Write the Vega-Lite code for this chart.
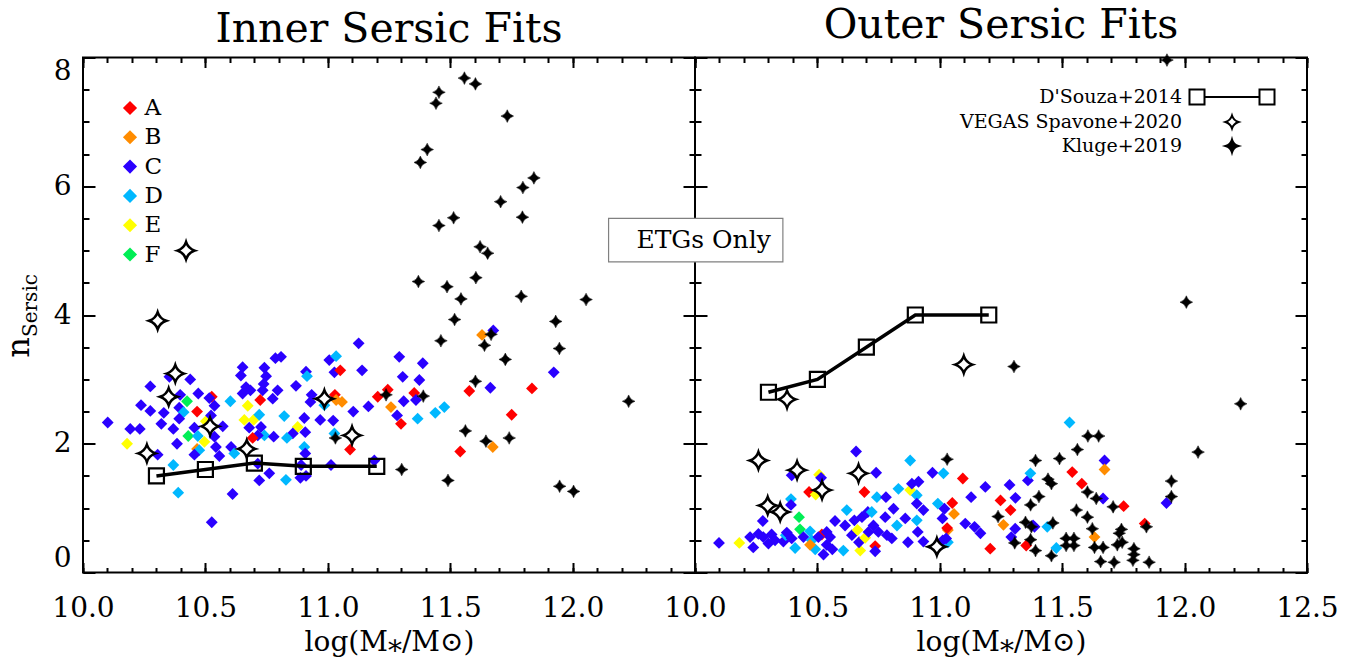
{
 "$schema": "https://vega.github.io/schema/vega-lite/v6.json",
 "padding": {"left": 1, "top": 3.5, "right": 5, "bottom": 2},
 "background": "white",
 "spacing": 0,
 "bounds": "flush",
 "config": {
  "view": {"stroke": "black", "strokeWidth": 2},
  "axis": {"domain": false, "grid": false, "tickColor": "black", "tickWidth": 2, "labelColor": "black", "labelFont": "DejaVu Serif", "labelFontSize": 28, "titleFont": "DejaVu Serif", "titleFontWeight": "normal", "titleColor": "black", "labelOverlap": false},
  "title": {"font": "DejaVu Serif", "fontSize": 41, "fontWeight": "normal", "color": "black", "anchor": "middle", "offset": 6}
 },
 "datasets": {
  "leftDiamonds": [
   {"mass":10.526,"n":2.73,"group":"A"},{"mass":10.101,"n":2.33,"group":"C"},{"mass":10.180,"n":2.00,"group":"E"},{"mass":10.275,"n":2.89,"group":"C"},{"mass":10.237,"n":2.60,"group":"C"},{"mass":10.275,"n":2.51,"group":"C"},{"mass":10.232,"n":2.23,"group":"C"},{"mass":10.330,"n":2.48,"group":"C"},{"mass":10.320,"n":2.31,"group":"C"},{"mass":10.369,"n":2.23,"group":"C"},{"mass":10.384,"n":2.00,"group":"C"},{"mass":10.305,"n":1.83,"group":"C"},{"mass":10.369,"n":1.67,"group":"D"},{"mass":10.389,"n":1.24,"group":"D"},{"mass":10.438,"n":3.00,"group":"C"},{"mass":10.471,"n":2.78,"group":"C"},{"mass":10.425,"n":2.66,"group":"F"},{"mass":10.516,"n":2.71,"group":"C"},{"mass":10.537,"n":2.59,"group":"C"},{"mass":10.393,"n":2.56,"group":"C"},{"mass":10.411,"n":2.49,"group":"D"},{"mass":10.393,"n":2.39,"group":"C"},{"mass":10.466,"n":2.50,"group":"A"},{"mass":10.455,"n":2.25,"group":"C"},{"mass":10.430,"n":2.12,"group":"F"},{"mass":10.469,"n":2.12,"group":"D"},{"mass":10.466,"n":1.92,"group":"B"},{"mass":10.496,"n":2.03,"group":"E"},{"mass":10.475,"n":1.90,"group":"D"},{"mass":10.455,"n":1.83,"group":"C"},{"mass":10.502,"n":2.35,"group":"E"},{"mass":10.523,"n":2.44,"group":"C"},{"mass":10.571,"n":2.27,"group":"C"},{"mass":10.537,"n":2.11,"group":"C"},{"mass":10.543,"n":1.95,"group":"C"},{"mass":10.557,"n":1.81,"group":"C"},{"mass":10.605,"n":1.95,"group":"C"},{"mass":10.618,"n":1.85,"group":"D"},{"mass":10.611,"n":1.22,"group":"C"},{"mass":10.526,"n":0.78,"group":"C"},{"mass":10.652,"n":3.19,"group":"C"},{"mass":10.645,"n":3.06,"group":"C"},{"mass":10.741,"n":3.18,"group":"C"},{"mass":10.748,"n":3.05,"group":"C"},{"mass":10.738,"n":2.93,"group":"C"},{"mass":10.666,"n":2.88,"group":"C"},{"mass":10.684,"n":2.83,"group":"C"},{"mass":10.652,"n":2.78,"group":"C"},{"mass":10.734,"n":2.83,"group":"C"},{"mass":10.786,"n":3.33,"group":"C"},{"mass":10.775,"n":2.70,"group":"C"},{"mass":10.795,"n":2.83,"group":"C"},{"mass":10.724,"n":2.68,"group":"A"},{"mass":10.673,"n":2.59,"group":"E"},{"mass":10.659,"n":2.37,"group":"E"},{"mass":10.697,"n":2.37,"group":"E"},{"mass":10.720,"n":2.45,"group":"D"},{"mass":10.679,"n":2.25,"group":"C"},{"mass":10.727,"n":2.26,"group":"C"},{"mass":10.741,"n":2.13,"group":"D"},{"mass":10.714,"n":2.13,"group":"C"},{"mass":10.693,"n":2.09,"group":"A"},{"mass":10.779,"n":2.11,"group":"C"},{"mass":10.714,"n":1.69,"group":"C"},{"mass":10.761,"n":1.54,"group":"C"},{"mass":10.720,"n":1.43,"group":"C"},{"mass":10.809,"n":3.35,"group":"C"},{"mass":11.126,"n":3.56,"group":"C"},{"mass":11.006,"n":3.30,"group":"C"},{"mass":11.034,"n":3.36,"group":"D"},{"mass":11.292,"n":3.35,"group":"C"},{"mass":11.388,"n":3.25,"group":"C"},{"mass":10.911,"n":3.12,"group":"C"},{"mass":10.915,"n":3.05,"group":"D"},{"mass":11.027,"n":3.11,"group":"C"},{"mass":11.051,"n":3.14,"group":"A"},{"mass":11.140,"n":3.14,"group":"C"},{"mass":11.306,"n":3.04,"group":"C"},{"mass":11.374,"n":2.99,"group":"C"},{"mass":10.870,"n":2.90,"group":"C"},{"mass":10.934,"n":2.76,"group":"C"},{"mass":10.929,"n":2.65,"group":"C"},{"mass":11.029,"n":2.76,"group":"A"},{"mass":11.034,"n":2.68,"group":"B"},{"mass":11.058,"n":2.65,"group":"B"},{"mass":10.986,"n":2.60,"group":"D"},{"mass":11.204,"n":2.73,"group":"A"},{"mass":11.245,"n":2.84,"group":"A"},{"mass":11.353,"n":2.79,"group":"A"},{"mass":11.310,"n":2.66,"group":"C"},{"mass":11.360,"n":2.68,"group":"C"},{"mass":11.258,"n":2.57,"group":"B"},{"mass":11.166,"n":2.58,"group":"C"},{"mass":11.104,"n":2.50,"group":"C"},{"mass":11.283,"n":2.44,"group":"C"},{"mass":11.299,"n":2.31,"group":"A"},{"mass":11.367,"n":2.39,"group":"D"},{"mass":11.439,"n":2.48,"group":"D"},{"mass":11.476,"n":2.57,"group":"D"},{"mass":10.822,"n":2.43,"group":"D"},{"mass":10.904,"n":2.40,"group":"C"},{"mass":10.969,"n":2.37,"group":"C"},{"mass":11.022,"n":2.36,"group":"C"},{"mass":10.877,"n":2.26,"group":"E"},{"mass":10.857,"n":2.16,"group":"C"},{"mass":10.833,"n":2.09,"group":"D"},{"mass":10.908,"n":2.18,"group":"C"},{"mass":11.027,"n":2.16,"group":"D"},{"mass":11.091,"n":1.91,"group":"A"},{"mass":10.904,"n":1.95,"group":"D"},{"mass":10.908,"n":1.85,"group":"C"},{"mass":11.541,"n":1.88,"group":"A"},{"mass":11.578,"n":2.82,"group":"A"},{"mass":10.891,"n":1.67,"group":"C"},{"mass":11.013,"n":1.67,"group":"C"},{"mass":11.190,"n":1.74,"group":"C"},{"mass":10.829,"n":1.44,"group":"D"},{"mass":10.888,"n":1.47,"group":"C"},{"mass":10.911,"n":1.50,"group":"C"},{"mass":11.630,"n":3.69,"group":"B"},{"mass":11.676,"n":3.76,"group":"C"},{"mass":11.923,"n":3.11,"group":"C"},{"mass":11.664,"n":2.87,"group":"C"},{"mass":11.834,"n":2.86,"group":"A"},{"mass":11.751,"n":2.45,"group":"A"},{"mass":11.674,"n":1.95,"group":"B"},{"mass":10.193,"n":2.23,"group":"C"},{"mass":10.353,"n":3.04,"group":"C"},{"mass":10.397,"n":2.76,"group":"C"},{"mass":10.602,"n":2.66,"group":"D"}
  ],
  "rightDiamonds": [
   {"mass":10.098,"n":0.46,"group":"C"},{"mass":10.181,"n":0.46,"group":"E"},{"mass":10.238,"n":0.39,"group":"C"},{"mass":10.225,"n":0.55,"group":"C"},{"mass":10.259,"n":0.60,"group":"C"},{"mass":10.277,"n":0.80,"group":"C"},{"mass":10.279,"n":0.55,"group":"C"},{"mass":10.300,"n":0.45,"group":"C"},{"mass":10.313,"n":0.59,"group":"C"},{"mass":10.327,"n":0.50,"group":"C"},{"mass":10.361,"n":0.48,"group":"C"},{"mass":10.371,"n":0.58,"group":"D"},{"mass":10.375,"n":0.62,"group":"C"},{"mass":10.395,"n":0.53,"group":"C"},{"mass":10.409,"n":0.38,"group":"D"},{"mass":10.392,"n":1.14,"group":"D"},{"mass":10.392,"n":1.05,"group":"C"},{"mass":10.395,"n":1.51,"group":"C"},{"mass":10.425,"n":0.86,"group":"F"},{"mass":10.429,"n":0.67,"group":"F"},{"mass":10.443,"n":0.55,"group":"C"},{"mass":10.470,"n":0.64,"group":"D"},{"mass":10.477,"n":0.50,"group":"D"},{"mass":10.466,"n":1.25,"group":"A"},{"mass":10.493,"n":1.21,"group":"E"},{"mass":10.507,"n":1.52,"group":"E"},{"mass":10.515,"n":1.47,"group":"C"},{"mass":10.491,"n":0.36,"group":"D"},{"mass":10.470,"n":0.43,"group":"B"},{"mass":10.518,"n":0.59,"group":"A"},{"mass":10.504,"n":0.55,"group":"C"},{"mass":10.525,"n":0.28,"group":"C"},{"mass":10.538,"n":0.63,"group":"C"},{"mass":10.552,"n":0.55,"group":"C"},{"mass":10.538,"n":0.43,"group":"C"},{"mass":10.561,"n":0.36,"group":"C"},{"mass":10.572,"n":0.80,"group":"C"},{"mass":10.606,"n":0.34,"group":"D"},{"mass":10.613,"n":0.73,"group":"C"},{"mass":10.620,"n":0.97,"group":"D"},{"mass":10.641,"n":0.58,"group":"C"},{"mass":10.651,"n":0.81,"group":"C"},{"mass":10.658,"n":1.88,"group":"C"},{"mass":10.664,"n":0.66,"group":"E"},{"mass":10.675,"n":0.34,"group":"E"},{"mass":10.670,"n":0.47,"group":"C"},{"mass":10.682,"n":0.86,"group":"C"},{"mass":10.695,"n":0.54,"group":"E"},{"mass":10.692,"n":1.25,"group":"A"},{"mass":10.706,"n":0.94,"group":"C"},{"mass":10.722,"n":0.94,"group":"D"},{"mass":10.709,"n":0.63,"group":"C"},{"mass":10.736,"n":0.41,"group":"A"},{"mass":10.740,"n":1.55,"group":"C"},{"mass":10.743,"n":1.17,"group":"D"},{"mass":10.729,"n":0.73,"group":"C"},{"mass":10.736,"n":0.33,"group":"C"},{"mass":10.749,"n":0.63,"group":"C"},{"mass":10.780,"n":1.17,"group":"C"},{"mass":10.777,"n":0.86,"group":"C"},{"mass":10.784,"n":0.58,"group":"C"},{"mass":10.811,"n":0.99,"group":"C"},{"mass":10.804,"n":0.53,"group":"C"},{"mass":10.831,"n":1.30,"group":"D"},{"mass":10.825,"n":0.73,"group":"D"},{"mass":10.859,"n":0.84,"group":"C"},{"mass":10.870,"n":0.47,"group":"C"},{"mass":10.879,"n":1.74,"group":"D"},{"mass":10.879,"n":1.28,"group":"E"},{"mass":10.886,"n":1.38,"group":"C"},{"mass":10.906,"n":1.20,"group":"D"},{"mass":10.913,"n":1.41,"group":"C"},{"mass":10.906,"n":1.07,"group":"C"},{"mass":10.906,"n":0.81,"group":"D"},{"mass":10.910,"n":0.63,"group":"C"},{"mass":10.933,"n":0.97,"group":"C"},{"mass":10.933,"n":0.48,"group":"C"},{"mass":10.970,"n":1.55,"group":"C"},{"mass":10.992,"n":1.07,"group":"D"},{"mass":11.015,"n":1.54,"group":"D"},{"mass":11.011,"n":0.84,"group":"C"},{"mass":11.094,"n":1.46,"group":"A"},{"mass":11.051,"n":1.08,"group":"A"},{"mass":11.058,"n":0.91,"group":"B"},{"mass":11.128,"n":1.17,"group":"C"},{"mass":11.104,"n":0.76,"group":"C"},{"mass":11.142,"n":0.71,"group":"C"},{"mass":11.166,"n":0.61,"group":"C"},{"mass":11.186,"n":1.33,"group":"C"},{"mass":11.206,"n":0.37,"group":"A"},{"mass":11.248,"n":1.12,"group":"A"},{"mass":11.260,"n":0.74,"group":"B"},{"mass":11.289,"n":0.97,"group":"A"},{"mass":11.285,"n":1.36,"group":"C"},{"mass":11.033,"n":0.66,"group":"B"},{"mass":11.033,"n":0.47,"group":"D"},{"mass":11.012,"n":0.50,"group":"C"},{"mass":11.019,"n":0.99,"group":"C"},{"mass":11.030,"n":0.69,"group":"A"},{"mass":11.026,"n":0.53,"group":"C"},{"mass":11.309,"n":1.16,"group":"C"},{"mass":11.308,"n":0.68,"group":"C"},{"mass":11.292,"n":0.55,"group":"C"},{"mass":11.353,"n":0.42,"group":"A"},{"mass":11.360,"n":1.43,"group":"C"},{"mass":11.370,"n":1.54,"group":"D"},{"mass":11.381,"n":0.73,"group":"C"},{"mass":11.387,"n":0.71,"group":"C"},{"mass":11.439,"n":0.71,"group":"D"},{"mass":11.476,"n":0.38,"group":"D"},{"mass":11.530,"n":2.33,"group":"D"},{"mass":11.541,"n":1.56,"group":"A"},{"mass":11.580,"n":1.38,"group":"A"},{"mass":11.673,"n":1.74,"group":"C"},{"mass":11.673,"n":1.60,"group":"B"},{"mass":11.667,"n":1.15,"group":"C"},{"mass":11.751,"n":1.03,"group":"A"},{"mass":11.632,"n":0.55,"group":"B"},{"mass":11.837,"n":0.76,"group":"A"},{"mass":11.926,"n":1.08,"group":"C"}
  ],
  "leftKluge": [
   {"mass":11.558,"n":7.68,"source":"Kluge+2019"},{"mass":11.603,"n":7.59,"source":"Kluge+2019"},{"mass":11.454,"n":7.46,"source":"Kluge+2019"},{"mass":11.442,"n":7.29,"source":"Kluge+2019"},{"mass":11.733,"n":7.09,"source":"Kluge+2019"},{"mass":11.406,"n":6.57,"source":"Kluge+2019"},{"mass":11.378,"n":6.37,"source":"Kluge+2019"},{"mass":11.842,"n":6.13,"source":"Kluge+2019"},{"mass":11.797,"n":5.98,"source":"Kluge+2019"},{"mass":11.706,"n":5.76,"source":"Kluge+2019"},{"mass":11.795,"n":5.52,"source":"Kluge+2019"},{"mass":11.514,"n":5.51,"source":"Kluge+2019"},{"mass":11.454,"n":5.39,"source":"Kluge+2019"},{"mass":11.622,"n":5.06,"source":"Kluge+2019"},{"mass":11.653,"n":4.96,"source":"Kluge+2019"},{"mass":11.605,"n":4.58,"source":"Kluge+2019"},{"mass":11.370,"n":4.52,"source":"Kluge+2019"},{"mass":11.487,"n":4.44,"source":"Kluge+2019"},{"mass":11.544,"n":4.25,"source":"Kluge+2019"},{"mass":11.790,"n":4.29,"source":"Kluge+2019"},{"mass":12.055,"n":4.24,"source":"Kluge+2019"},{"mass":11.518,"n":3.93,"source":"Kluge+2019"},{"mass":11.931,"n":3.90,"source":"Kluge+2019"},{"mass":11.667,"n":3.70,"source":"Kluge+2019"},{"mass":11.462,"n":3.60,"source":"Kluge+2019"},{"mass":11.640,"n":3.53,"source":"Kluge+2019"},{"mass":11.946,"n":3.48,"source":"Kluge+2019"},{"mass":11.725,"n":3.31,"source":"Kluge+2019"},{"mass":11.603,"n":2.97,"source":"Kluge+2019"},{"mass":11.238,"n":2.76,"source":"Kluge+2019"},{"mass":11.390,"n":2.74,"source":"Kluge+2019"},{"mass":12.229,"n":2.66,"source":"Kluge+2019"},{"mass":11.562,"n":2.20,"source":"Kluge+2019"},{"mass":11.646,"n":2.04,"source":"Kluge+2019"},{"mass":11.741,"n":2.09,"source":"Kluge+2019"},{"mass":11.031,"n":2.09,"source":"Kluge+2019"},{"mass":11.302,"n":1.60,"source":"Kluge+2019"},{"mass":11.491,"n":1.43,"source":"Kluge+2019"},{"mass":11.947,"n":1.34,"source":"Kluge+2019"},{"mass":12.004,"n":1.26,"source":"Kluge+2019"}
  ],
  "rightKluge": [
   {"mass":11.030,"n":1.76,"source":"Kluge+2019"},{"mass":11.391,"n":1.74,"source":"Kluge+2019"},{"mass":11.489,"n":1.77,"source":"Kluge+2019"},{"mass":11.562,"n":1.91,"source":"Kluge+2019"},{"mass":11.605,"n":2.12,"source":"Kluge+2019"},{"mass":11.649,"n":2.12,"source":"Kluge+2019"},{"mass":11.442,"n":1.45,"source":"Kluge+2019"},{"mass":11.456,"n":1.38,"source":"Kluge+2019"},{"mass":11.405,"n":1.18,"source":"Kluge+2019"},{"mass":11.371,"n":1.05,"source":"Kluge+2019"},{"mass":11.238,"n":0.87,"source":"Kluge+2019"},{"mass":11.350,"n":0.78,"source":"Kluge+2019"},{"mass":11.374,"n":0.71,"source":"Kluge+2019"},{"mass":11.371,"n":0.51,"source":"Kluge+2019"},{"mass":11.306,"n":0.46,"source":"Kluge+2019"},{"mass":11.391,"n":0.34,"source":"Kluge+2019"},{"mass":11.456,"n":0.26,"source":"Kluge+2019"},{"mass":11.462,"n":0.77,"source":"Kluge+2019"},{"mass":11.516,"n":0.53,"source":"Kluge+2019"},{"mass":11.516,"n":0.42,"source":"Kluge+2019"},{"mass":11.548,"n":0.53,"source":"Kluge+2019"},{"mass":11.548,"n":0.42,"source":"Kluge+2019"},{"mass":11.558,"n":0.97,"source":"Kluge+2019"},{"mass":11.603,"n":1.25,"source":"Kluge+2019"},{"mass":11.603,"n":0.86,"source":"Kluge+2019"},{"mass":11.639,"n":1.15,"source":"Kluge+2019"},{"mass":11.623,"n":0.68,"source":"Kluge+2019"},{"mass":11.632,"n":0.39,"source":"Kluge+2019"},{"mass":11.667,"n":0.39,"source":"Kluge+2019"},{"mass":11.657,"n":0.17,"source":"Kluge+2019"},{"mass":11.708,"n":1.02,"source":"Kluge+2019"},{"mass":11.712,"n":0.16,"source":"Kluge+2019"},{"mass":11.742,"n":0.67,"source":"Kluge+2019"},{"mass":11.733,"n":0.61,"source":"Kluge+2019"},{"mass":11.725,"n":0.43,"source":"Kluge+2019"},{"mass":11.745,"n":0.47,"source":"Kluge+2019"},{"mass":11.793,"n":0.37,"source":"Kluge+2019"},{"mass":11.793,"n":0.28,"source":"Kluge+2019"},{"mass":11.789,"n":0.19,"source":"Kluge+2019"},{"mass":11.844,"n":0.71,"source":"Kluge+2019"},{"mass":11.855,"n":0.16,"source":"Kluge+2019"},{"mass":11.946,"n":1.42,"source":"Kluge+2019"},{"mass":11.946,"n":1.18,"source":"Kluge+2019"},{"mass":11.303,"n":3.20,"source":"Kluge+2019"},{"mass":12.229,"n":2.62,"source":"Kluge+2019"},{"mass":12.055,"n":1.87,"source":"Kluge+2019"},{"mass":12.007,"n":4.20,"source":"Kluge+2019"},{"mass":11.928,"n":7.96,"source":"Kluge+2019"}
  ],
  "leftSpavone": [
   {"mass":10.421,"n":5.00,"source":"VEGAS Spavone+2020"},{"mass":10.305,"n":3.91,"source":"VEGAS Spavone+2020"},{"mass":10.377,"n":3.09,"source":"VEGAS Spavone+2020"},{"mass":10.350,"n":2.73,"source":"VEGAS Spavone+2020"},{"mass":10.519,"n":2.27,"source":"VEGAS Spavone+2020"},{"mass":10.261,"n":1.85,"source":"VEGAS Spavone+2020"},{"mass":10.669,"n":1.92,"source":"VEGAS Spavone+2020"},{"mass":10.986,"n":2.70,"source":"VEGAS Spavone+2020"},{"mass":11.099,"n":2.13,"source":"VEGAS Spavone+2020"}
  ],
  "rightSpavone": [
   {"mass":10.376,"n":2.69,"source":"VEGAS Spavone+2020"},{"mass":11.098,"n":3.23,"source":"VEGAS Spavone+2020"},{"mass":10.259,"n":1.74,"source":"VEGAS Spavone+2020"},{"mass":10.417,"n":1.59,"source":"VEGAS Spavone+2020"},{"mass":10.668,"n":1.54,"source":"VEGAS Spavone+2020"},{"mass":10.519,"n":1.28,"source":"VEGAS Spavone+2020"},{"mass":10.297,"n":1.04,"source":"VEGAS Spavone+2020"},{"mass":10.348,"n":0.94,"source":"VEGAS Spavone+2020"},{"mass":10.988,"n":0.40,"source":"VEGAS Spavone+2020"}
  ],
  "leftDSouza": [
   {"mass":10.3,"n":1.50},{"mass":10.5,"n":1.60},{"mass":10.7,"n":1.70},{"mass":10.9,"n":1.65},{"mass":11.2,"n":1.65}
  ],
  "rightDSouza": [
   {"mass":10.3,"n":2.80},{"mass":10.5,"n":3.00},{"mass":10.7,"n":3.50},{"mass":10.9,"n":4.00},{"mass":11.2,"n":4.00}
  ],
  "note": [
   {"x1":9.647,"x2":10.359,"y1":4.825,"y2":5.50,"tx":10.035,"ty":5.17,"label":"ETGs Only"}
  ]
 },
 "resolve": {"legend": {"color": "independent", "shape": "independent", "fill": "independent"}},
 "hconcat": [
  {
   "width": 612, "height": 515,
   "title": {"text": "Inner Sersic Fits"},
   "resolve": {"axis": {"x": "independent", "y": "independent"}},
   "layer": [
    {
     "data": {"name": "leftDiamonds"},
     "mark": {"type": "point", "shape": "diamond", "filled": true, "size": 140, "opacity": 1},
     "encoding": {
      "x": {"field": "mass", "type": "quantitative", "scale": {"domain": [10, 12.5], "nice": false, "zero": false},
            "axis": {"orient": "bottom", "values": [10, 10.5, 11, 11.5, 12], "format": ".1f", "tickSize": -10, "labelPadding": 32, "labelFlush": false, "title": "log(M⁎/M⊙)", "titleFontSize": 28, "titlePadding": 6}},
      "y": {"field": "n", "type": "quantitative", "scale": {"domain": [0, 8], "nice": false, "zero": false},
            "axis": {"orient": "left", "values": [0, 2, 4, 6, 8], "format": "d", "tickSize": -12, "labelPadding": 24, "labelFlush": true, "title": "n", "titleFontSize": 32, "titleAngle": 270, "titleX": -55, "titleY": 289.5, "titleAlign": "center", "titleBaseline": "alphabetic"}},
      "color": {"field": "group", "type": "nominal",
                "scale": {"domain": ["A", "B", "C", "D", "E", "F"], "range": ["#ff0000", "#ff8c00", "#2a00ff", "#00b8ff", "#ffff00", "#00ee55"]},
                "legend": {"orient": "none", "legendX": 35.5, "legendY": 39, "title": null, "symbolType": "diamond", "symbolSize": 200, "symbolStrokeWidth": 0, "symbolOpacity": 1, "labelFont": "DejaVu Serif", "labelFontSize": 23, "labelColor": "black", "labelOffset": 3, "rowPadding": 5.3, "padding": 0}}
     }
    },
    {
     "data": {"name": "leftKluge"},
     "mark": {"type": "point", "filled": true, "size": 160, "stroke": "black", "strokeWidth": 0.5, "opacity": 1},
     "encoding": {
      "x": {"field": "mass", "type": "quantitative", "scale": {"domain": [10, 12.5], "nice": false, "zero": false},
            "axis": {"orient": "bottom", "values": [10, 10.1, 10.2, 10.3, 10.4, 10.5, 10.6, 10.7, 10.8, 10.9, 11, 11.1, 11.2, 11.3, 11.4, 11.5, 11.6, 11.7, 11.8, 11.9, 12, 12.1, 12.2, 12.3, 12.4, 12.5], "tickSize": -5, "labels": false, "title": null}},
      "y": {"field": "n", "type": "quantitative", "scale": {"domain": [0, 8], "nice": false, "zero": false},
            "axis": {"orient": "left", "values": [0, 0.5, 1, 1.5, 2, 2.5, 3, 3.5, 4, 4.5, 5, 5.5, 6, 6.5, 7, 7.5, 8], "tickSize": -6, "labels": false, "title": "Sersic", "titleFontSize": 20, "titleAngle": 270, "titleX": -47, "titleY": 247.5, "titleAlign": "center", "titleBaseline": "alphabetic"}},
      "shape": {"field": "source", "type": "nominal",
                "scale": {"domain": ["D'Souza+2014", "VEGAS Spavone+2020", "Kluge+2019"], "range": ["M-6.54,-1.15H-4.23V1.15H-6.54ZM4.23,-1.15H6.54V1.15H4.23ZM-4.23,0H4.23", "M0,-1Q0.24,-0.24,1,0Q0.24,0.24,0,1Q-0.24,0.24,-1,0Q-0.24,-0.24,0,-1Z", "M0,-1Q0.22,-0.22,1,0Q0.22,0.22,0,1Q-0.22,0.22,-1,0Q-0.22,-0.22,0,-1Z"]}, "legend": null},
      "fill": {"field": "source", "type": "nominal",
               "scale": {"domain": ["D'Souza+2014", "VEGAS Spavone+2020", "Kluge+2019"], "range": ["transparent", "white", "black"]}, "legend": null}
     }
    },
    {
     "data": {"name": "leftSpavone"},
     "mark": {"type": "point", "filled": true, "size": 300, "stroke": "black", "strokeWidth": 2.5, "opacity": 1},
     "encoding": {
      "x": {"field": "mass", "type": "quantitative", "scale": {"domain": [10, 12.5], "nice": false, "zero": false},
            "axis": {"orient": "top", "values": [10, 10.5, 11, 11.5, 12, 12.5], "tickSize": -10, "labels": false, "title": null}},
      "y": {"field": "n", "type": "quantitative", "scale": {"domain": [0, 8], "nice": false, "zero": false},
            "axis": {"orient": "right", "values": [0, 2, 4, 6, 8], "tickSize": -12, "labels": false, "title": null}},
      "shape": {"field": "source", "type": "nominal", "legend": null},
      "fill": {"field": "source", "type": "nominal", "legend": null}
     }
    },
    {
     "data": {"name": "leftDSouza"},
     "mark": {"type": "line", "color": "black", "strokeWidth": 3.5},
     "encoding": {
      "x": {"field": "mass", "type": "quantitative", "scale": {"domain": [10, 12.5], "nice": false, "zero": false},
            "axis": {"orient": "top", "values": [10, 10.1, 10.2, 10.3, 10.4, 10.5, 10.6, 10.7, 10.8, 10.9, 11, 11.1, 11.2, 11.3, 11.4, 11.5, 11.6, 11.7, 11.8, 11.9, 12, 12.1, 12.2, 12.3, 12.4, 12.5], "tickSize": -5, "labels": false, "title": null}},
      "y": {"field": "n", "type": "quantitative", "scale": {"domain": [0, 8], "nice": false, "zero": false},
            "axis": {"orient": "right", "values": [0, 0.5, 1, 1.5, 2, 2.5, 3, 3.5, 4, 4.5, 5, 5.5, 6, 6.5, 7, 7.5, 8], "tickSize": -6, "labels": false, "title": null}}
     }
    },
    {
     "data": {"name": "leftDSouza"},
     "mark": {"type": "point", "shape": "square", "filled": false, "size": 225, "stroke": "black", "strokeWidth": 2.2, "opacity": 1},
     "encoding": {
      "x": {"field": "mass", "type": "quantitative", "axis": null},
      "y": {"field": "n", "type": "quantitative", "axis": null}
     }
    }
   ]
  },
  {
   "width": 612, "height": 515,
   "title": {"text": "Outer Sersic Fits"},
   "resolve": {"axis": {"x": "independent", "y": "independent"}},
   "layer": [
    {
     "data": {"name": "rightDiamonds"},
     "mark": {"type": "point", "shape": "diamond", "filled": true, "size": 140, "opacity": 1},
     "encoding": {
      "x": {"field": "mass", "type": "quantitative", "scale": {"domain": [10, 12.5], "nice": false, "zero": false},
            "axis": {"orient": "bottom", "values": [10, 10.5, 11, 11.5, 12, 12.5], "format": ".1f", "tickSize": -10, "labelPadding": 32, "labelFlush": false, "title": "log(M⁎/M⊙)", "titleFontSize": 28, "titlePadding": 6}},
      "y": {"field": "n", "type": "quantitative", "scale": {"domain": [0, 8], "nice": false, "zero": false},
            "axis": {"orient": "left", "values": [0, 2, 4, 6, 8], "tickSize": -12, "labels": false, "title": null}},
      "color": {"field": "group", "type": "nominal", "legend": null}
     }
    },
    {
     "data": {"name": "rightKluge"},
     "mark": {"type": "point", "filled": true, "size": 160, "stroke": "black", "strokeWidth": 0.5, "opacity": 1},
     "encoding": {
      "x": {"field": "mass", "type": "quantitative", "scale": {"domain": [10, 12.5], "nice": false, "zero": false},
            "axis": {"orient": "bottom", "values": [10, 10.1, 10.2, 10.3, 10.4, 10.5, 10.6, 10.7, 10.8, 10.9, 11, 11.1, 11.2, 11.3, 11.4, 11.5, 11.6, 11.7, 11.8, 11.9, 12, 12.1, 12.2, 12.3, 12.4, 12.5], "tickSize": -5, "labels": false, "title": null}},
      "y": {"field": "n", "type": "quantitative", "scale": {"domain": [0, 8], "nice": false, "zero": false},
            "axis": {"orient": "left", "values": [0, 0.5, 1, 1.5, 2, 2.5, 3, 3.5, 4, 4.5, 5, 5.5, 6, 6.5, 7, 7.5, 8], "tickSize": -6, "labels": false, "title": null}},
      "shape": {"field": "source", "type": "nominal",
                "legend": {"orient": "none", "legendX": 527.5, "legendY": 30, "title": null, "symbolSize": 169, "symbolStrokeColor": "black", "symbolStrokeWidth": 2, "symbolOpacity": 1, "labelFont": "DejaVu Serif", "labelFontSize": 19, "labelColor": "black", "labelAlign": "right", "labelOffset": -59.5, "labelLimit": 0, "rowPadding": 3, "padding": 0,
                           "encode": {"symbols": {"update": {"stroke": {"value": "black"}, "strokeWidth": {"value": 2}}}}}},
      "fill": {"field": "source", "type": "nominal",
               "legend": {"orient": "none", "legendX": 527.5, "legendY": 30, "title": null, "symbolSize": 169, "symbolStrokeColor": "black", "symbolStrokeWidth": 2, "symbolOpacity": 1, "labelFont": "DejaVu Serif", "labelFontSize": 19, "labelColor": "black", "labelAlign": "right", "labelOffset": -59.5, "labelLimit": 0, "rowPadding": 3, "padding": 0,
                          "encode": {"symbols": {"update": {"stroke": {"value": "black"}, "strokeWidth": {"value": 2}}}}}}
     }
    },
    {
     "data": {"name": "rightSpavone"},
     "mark": {"type": "point", "filled": true, "size": 300, "stroke": "black", "strokeWidth": 2.5, "opacity": 1},
     "encoding": {
      "x": {"field": "mass", "type": "quantitative", "scale": {"domain": [10, 12.5], "nice": false, "zero": false},
            "axis": {"orient": "top", "values": [10, 10.5, 11, 11.5, 12, 12.5], "tickSize": -10, "labels": false, "title": null}},
      "y": {"field": "n", "type": "quantitative", "scale": {"domain": [0, 8], "nice": false, "zero": false},
            "axis": {"orient": "right", "values": [0, 2, 4, 6, 8], "tickSize": -12, "labels": false, "title": null}},
      "shape": {"field": "source", "type": "nominal",
                "legend": {"orient": "none", "legendX": 527.5, "legendY": 30, "title": null, "symbolSize": 169, "symbolStrokeColor": "black", "symbolStrokeWidth": 2, "symbolOpacity": 1, "labelFont": "DejaVu Serif", "labelFontSize": 19, "labelColor": "black", "labelAlign": "right", "labelOffset": -59.5, "labelLimit": 0, "rowPadding": 3, "padding": 0,
                           "encode": {"symbols": {"update": {"stroke": {"value": "black"}, "strokeWidth": {"value": 2}}}}}},
      "fill": {"field": "source", "type": "nominal",
               "legend": {"orient": "none", "legendX": 527.5, "legendY": 30, "title": null, "symbolSize": 169, "symbolStrokeColor": "black", "symbolStrokeWidth": 2, "symbolOpacity": 1, "labelFont": "DejaVu Serif", "labelFontSize": 19, "labelColor": "black", "labelAlign": "right", "labelOffset": -59.5, "labelLimit": 0, "rowPadding": 3, "padding": 0,
                          "encode": {"symbols": {"update": {"stroke": {"value": "black"}, "strokeWidth": {"value": 2}}}}}}
     }
    },
    {
     "data": {"name": "rightDSouza"},
     "mark": {"type": "line", "color": "black", "strokeWidth": 3.5},
     "encoding": {
      "x": {"field": "mass", "type": "quantitative", "scale": {"domain": [10, 12.5], "nice": false, "zero": false},
            "axis": {"orient": "top", "values": [10, 10.1, 10.2, 10.3, 10.4, 10.5, 10.6, 10.7, 10.8, 10.9, 11, 11.1, 11.2, 11.3, 11.4, 11.5, 11.6, 11.7, 11.8, 11.9, 12, 12.1, 12.2, 12.3, 12.4, 12.5], "tickSize": -5, "labels": false, "title": null}},
      "y": {"field": "n", "type": "quantitative", "scale": {"domain": [0, 8], "nice": false, "zero": false},
            "axis": {"orient": "right", "values": [0, 0.5, 1, 1.5, 2, 2.5, 3, 3.5, 4, 4.5, 5, 5.5, 6, 6.5, 7, 7.5, 8], "tickSize": -6, "labels": false, "title": null}}
     }
    },
    {
     "data": {"name": "rightDSouza"},
     "mark": {"type": "point", "shape": "square", "filled": false, "size": 225, "stroke": "black", "strokeWidth": 2.2, "opacity": 1},
     "encoding": {
      "x": {"field": "mass", "type": "quantitative", "axis": null},
      "y": {"field": "n", "type": "quantitative", "axis": null}
     }
    },
    {
     "data": {"name": "note"},
     "mark": {"type": "rect", "fill": "white", "stroke": "#808080", "strokeWidth": 1.2},
     "encoding": {
      "x": {"field": "x1", "type": "quantitative", "axis": null},
      "x2": {"field": "x2"},
      "y": {"field": "y1", "type": "quantitative", "axis": null},
      "y2": {"field": "y2"}
     }
    },
    {
     "data": {"name": "note"},
     "mark": {"type": "text", "font": "DejaVu Serif", "fontSize": 25, "color": "black", "align": "center", "baseline": "middle"},
     "encoding": {
      "x": {"field": "tx", "type": "quantitative", "axis": null},
      "y": {"field": "ty", "type": "quantitative", "axis": null},
      "text": {"field": "label"}
     }
    }
   ]
  }
 ]
}
